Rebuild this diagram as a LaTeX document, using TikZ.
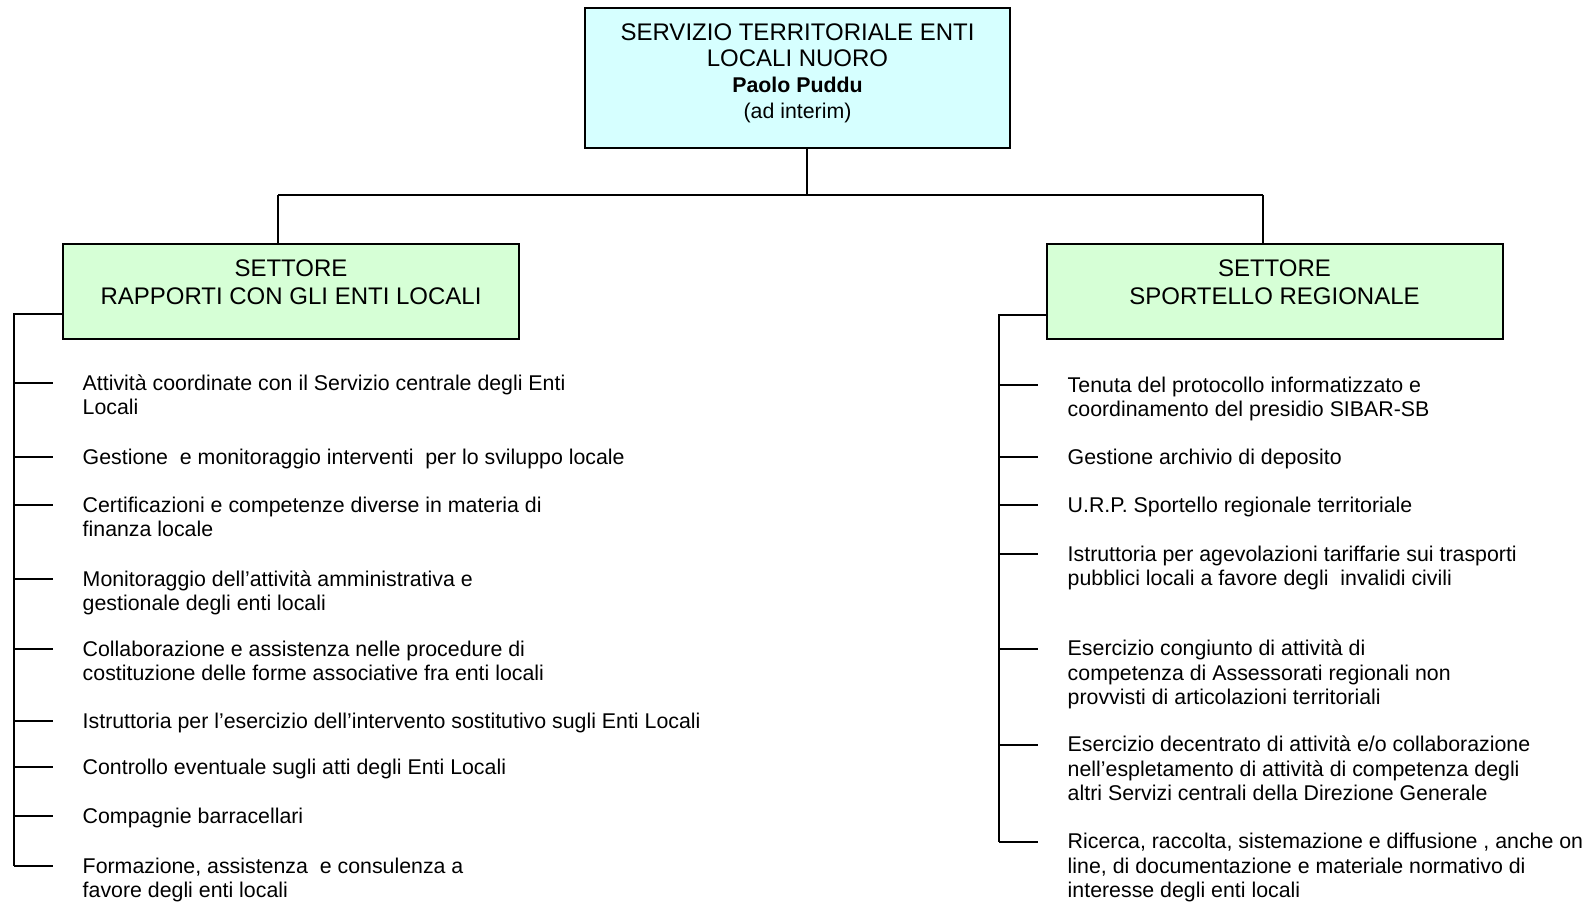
\documentclass[tikz,border=0pt]{standalone}
\usepackage{fontspec}
\setmainfont{Liberation Sans}
\definecolor{servfill}{RGB}{214,255,255}
\definecolor{settfill}{RGB}{214,255,214}
\begin{document}
\begin{tikzpicture}[x=0.75pt,y=-0.75pt,line width=1.1pt,
    head node/.style={draw,line width=1.5pt,align=center,inner sep=0pt},
    item node/.style={anchor=base west,align=left,inner sep=0pt,font=\fontsize{16}{18.2}\selectfont},
    branch/.style={shorten >=21.75pt}]
        \useasboundingbox (0,0) rectangle (1587,902);

        \node[head node, fill=servfill, minimum width=318.75pt, minimum height=105pt, text depth=10.5pt,
              font=\fontsize{18}{19.5}\selectfont] at (797.5,78) (serv)
              {SERVIZIO TERRITORIALE ENTI\\LOCALI NUORO\\{\fontsize{16}{17}\selectfont\bfseries Paolo Puddu}\\{\fontsize{16}{17}\selectfont (ad interim)}};
        \node[head node, fill=settfill, minimum width=342pt, minimum height=71.25pt, text depth=14pt,
              font=\fontsize{18}{21}\selectfont] at (291,291.5) (setRap) {SETTORE\\RAPPORTI CON GLI ENTI LOCALI};
        \node[head node, fill=settfill, minimum width=342pt, minimum height=71.25pt, text depth=14pt,
              font=\fontsize{18}{21}\selectfont] at (1274.5,291.5) (setSport) {SETTORE\\SPORTELLO REGIONALE};

        \coordinate (jt) at (807,195);
        \coordinate (jl) at (278,195);
        \coordinate (jr) at (1263,195);
        \draw (jt |- serv.south) -- (jt);
        \draw (jl) -- (jr);
        \draw (jl) -- (jl |- setRap.north);
        \draw (jr) -- (jr |- setSport.north);

        % settore rapporti con gli enti locali (node at baseline of last line)
        \node[item node] at (82,414.3) (l1) {Attività coordinate con il Servizio centrale degli Enti\\Locali};
        \node[item node] at (82,464) (l2) {Gestione~ e monitoraggio interventi~ per lo sviluppo locale};
        \node[item node] at (82,536.3) (l3) {Certificazioni e competenze diverse in materia di\\finanza locale};
        \node[item node] at (82,610.3) (l4) {Monitoraggio dell’attività amministrativa e\\gestionale degli enti locali};
        \node[item node] at (82,680.3) (l5) {Collaborazione e assistenza nelle procedure di\\costituzione delle forme associative fra enti locali};
        \node[item node] at (82,728) (l6) {Istruttoria per l’esercizio dell’intervento sostitutivo sugli Enti Locali};
        \node[item node] at (82,774) (l7) {Controllo eventuale sugli atti degli Enti Locali};
        \node[item node] at (82,823) (l8) {Compagnie barracellari};
        \node[item node] at (82,897.3) (l9) {Formazione, assistenza~ e consulenza a\\favore degli enti locali};

        \coordinate (lbtop) at (14,314);
        \coordinate (lb1) at (14,383);
        \coordinate (lb2) at (14,457);
        \coordinate (lb3) at (14,505);
        \coordinate (lb4) at (14,579);
        \coordinate (lb5) at (14,649);
        \coordinate (lb6) at (14,721);
        \coordinate (lb7) at (14,767);
        \coordinate (lb8) at (14,816);
        \coordinate (lb9) at (14,866);
        \draw (setRap.west |- lbtop) -- (lbtop) -- (lb9);
        \draw[branch] (lb1) -- (lb1 -| l1.west);
        \draw[branch] (lb2) -- (lb2 -| l2.west);
        \draw[branch] (lb3) -- (lb3 -| l3.west);
        \draw[branch] (lb4) -- (lb4 -| l4.west);
        \draw[branch] (lb5) -- (lb5 -| l5.west);
        \draw[branch] (lb6) -- (lb6 -| l6.west);
        \draw[branch] (lb7) -- (lb7 -| l7.west);
        \draw[branch] (lb8) -- (lb8 -| l8.west);
        \draw[branch] (lb9) -- (lb9 -| l9.west);

        % settore sportello regionale
        \node[item node] at (1067,416.3) (r1) {Tenuta del protocollo informatizzato e\\coordinamento del presidio SIBAR-SB};
        \node[item node] at (1067,464) (r2) {Gestione archivio di deposito};
        \node[item node] at (1067,512) (r3) {U.R.P. Sportello regionale territoriale};
        \node[item node] at (1067,585.3) (r4) {Istruttoria per agevolazioni tariffarie sui trasporti\\pubblici locali a favore degli~ invalidi civili};
        \node[item node] at (1067,704.5) (r5) {Esercizio congiunto di attività di\\competenza di Assessorati regionali non\\provvisti di articolazioni territoriali};
        \node[item node] at (1067,800.5) (r6) {Esercizio decentrato di attività e/o collaborazione\\nell’espletamento di attività di competenza degli\\altri Servizi centrali della Direzione Generale};
        \node[item node] at (1067,897.5) (r7) {Ricerca, raccolta, sistemazione e diffusione , anche on\\line, di documentazione e materiale normativo di\\interesse degli enti locali};

        \coordinate (rbtop) at (999,315);
        \coordinate (rb1) at (999,385);
        \coordinate (rb2) at (999,457);
        \coordinate (rb3) at (999,505);
        \coordinate (rb4) at (999,554);
        \coordinate (rb5) at (999,649);
        \coordinate (rb6) at (999,745);
        \coordinate (rb7) at (999,842);
        \draw (setSport.west |- rbtop) -- (rbtop) -- (rb7);
        \draw[branch] (rb1) -- (rb1 -| r1.west);
        \draw[branch] (rb2) -- (rb2 -| r2.west);
        \draw[branch] (rb3) -- (rb3 -| r3.west);
        \draw[branch] (rb4) -- (rb4 -| r4.west);
        \draw[branch] (rb5) -- (rb5 -| r5.west);
        \draw[branch] (rb6) -- (rb6 -| r6.west);
        \draw[branch] (rb7) -- (rb7 -| r7.west);
        \end{tikzpicture}
\end{document}
